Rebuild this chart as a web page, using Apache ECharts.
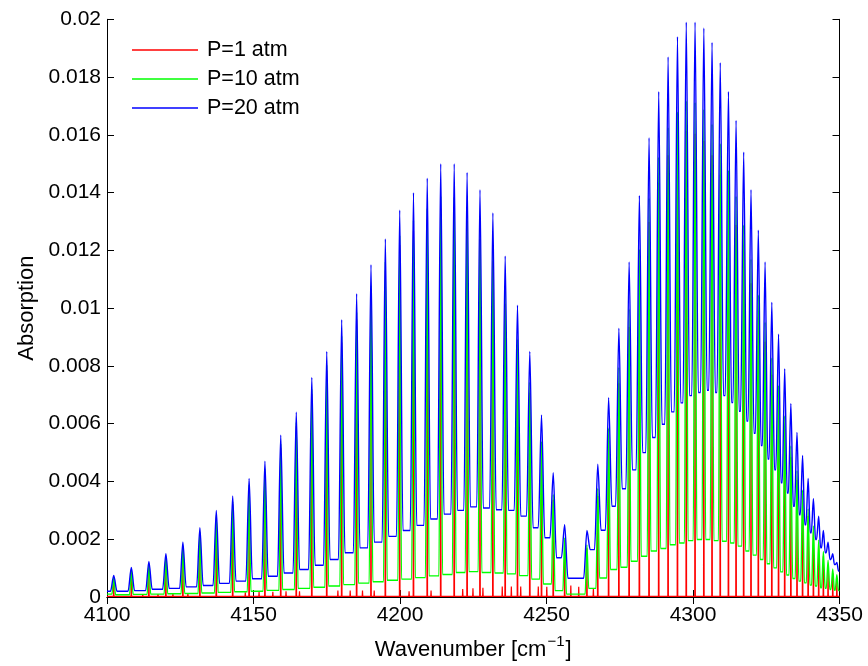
<!DOCTYPE html>
<html>
<head>
<meta charset="utf-8">
<script src="https://cdn.jsdelivr.net/npm/echarts@6/dist/echarts.min.js"></script>
<style>
html,body{margin:0;padding:0;background:#fff;}
#chart{width:868px;height:666px;}
</style>
</head>
<body>
<div id="chart"></div>
<script>
// ---- tick values ----
const xTicks = [4100, 4150, 4200, 4250, 4300, 4350];
const yTicks = [0, 0.002, 0.004, 0.006, 0.008, 0.01, 0.012, 0.014, 0.016, 0.018, 0.02];

// ---- main absorption line positions (cm^-1) ----
const lineWavenumbers = [
  4102.3, 4108.3, 4114.3, 4120.1, 4125.9, 4131.7, 4137.3, 4142.9, 4148.5, 4153.9,
  4159.3, 4164.6, 4169.9, 4175.0, 4180.1, 4185.2, 4190.1, 4195.0, 4199.9, 4204.6,
  4209.3, 4213.9, 4218.5, 4222.9, 4227.3, 4231.7, 4235.9, 4240.1, 4244.3, 4248.3,
  4252.3, 4256.2,
  4263.8, 4267.5, 4271.2, 4274.7, 4278.2, 4281.7, 4285.0, 4288.3, 4291.5, 4294.7,
  4297.7, 4300.7, 4303.7, 4306.5, 4309.3, 4312.1, 4314.7, 4317.3, 4319.8, 4322.3,
  4324.6, 4326.9, 4329.2, 4331.3, 4333.4, 4335.5, 4337.4, 4339.3, 4341.1, 4342.9,
  4344.5, 4346.1, 4347.7, 4349.1
];

// ---- P = 20 atm (blue) ----
const bluePeaks = [
  0.00075, 0.00102, 0.00123, 0.0015, 0.0019, 0.0024, 0.0030, 0.0035, 0.0041, 0.0047,
  0.0056, 0.0064, 0.0076, 0.0085, 0.0096, 0.0105, 0.0115, 0.0124, 0.0134, 0.0140,
  0.0145, 0.0150, 0.0150, 0.0147, 0.0141, 0.0133, 0.0118, 0.0101, 0.0085, 0.0063,
  0.0043, 0.0025,
  0.0023, 0.0046, 0.0069, 0.0093, 0.0116, 0.0139, 0.0159, 0.0175, 0.0187, 0.0194,
  0.0199, 0.0199, 0.0197, 0.0192, 0.0185, 0.0175, 0.0165, 0.0154, 0.0141, 0.0127,
  0.0116, 0.0102, 0.0091, 0.0079, 0.0067, 0.0057, 0.0049, 0.0041, 0.0034, 0.0028,
  0.0023, 0.0019, 0.0015, 0.0012
];
const blueValleys = [
  0.0002, 0.00022, 0.00027, 0.0003, 0.00035, 0.0004, 0.00047, 0.00055, 0.00063, 0.00072,
  0.00083, 0.00095, 0.0011, 0.0013, 0.00153, 0.0017, 0.0019, 0.0021, 0.0023, 0.00248,
  0.0027, 0.00287, 0.003, 0.00312, 0.00308, 0.00302, 0.003, 0.0028, 0.0024, 0.00205,
  0.00136,
  0.00065,
  0.00164, 0.00231, 0.00314, 0.00375, 0.0044, 0.005, 0.00552, 0.00598, 0.00641, 0.00672,
  0.00697, 0.00708, 0.00716, 0.00708, 0.00697, 0.00673, 0.00643, 0.00609, 0.00567, 0.00524,
  0.00478, 0.0044, 0.00395, 0.0036, 0.00314, 0.00285, 0.0025, 0.00222, 0.00199, 0.0017,
  0.00153, 0.0013, 0.00112
];
const blueEnds = [0.0002, 0.0009];

// ---- P = 10 atm (green) ----
const greenPeaks = [
  0.00068, 0.00095, 0.00115, 0.0014, 0.00178, 0.00226, 0.00284, 0.00331, 0.00388, 0.00445,
  0.00531, 0.00606, 0.00721, 0.00804, 0.00904, 0.00986, 0.01079, 0.01161, 0.01252, 0.01304,
  0.01346, 0.01388, 0.01385, 0.0135, 0.01287, 0.01208, 0.0106, 0.00893, 0.00744, 0.00539,
  0.00355, 0.00204,
  0.0018, 0.00376, 0.00585, 0.00795, 0.00997, 0.01204, 0.01381, 0.01523, 0.01625, 0.0168,
  0.01718, 0.01712, 0.01688, 0.01637, 0.0157, 0.01478, 0.01388, 0.01288, 0.0117, 0.01046,
  0.00952, 0.00828, 0.00733, 0.00627, 0.00523, 0.00438, 0.00371, 0.00305, 0.00246, 0.00197,
  0.00158, 0.00127, 0.00097, 0.00077
];
const greenValleys = [
  0.00008, 0.00009, 0.0001, 0.00011, 0.00012, 0.00014, 0.00016, 0.00018, 0.0002, 0.00023,
  0.00026, 0.0003, 0.00034, 0.00038, 0.00043, 0.00048, 0.00053, 0.00058, 0.00062, 0.00067,
  0.00073, 0.00078, 0.00085, 0.00088, 0.00085, 0.00083, 0.0008, 0.00074, 0.00062, 0.00045,
  0.00022,
  0.0001,
  0.0003, 0.00066, 0.00095, 0.00103, 0.00124, 0.00141, 0.00159, 0.00168, 0.00181, 0.00187,
  0.00195, 0.00199, 0.00199, 0.00195, 0.00193, 0.00187, 0.00176, 0.00159, 0.00145, 0.0013,
  0.00115, 0.00101, 0.00087, 0.00076, 0.00064, 0.00055, 0.00049, 0.00041, 0.00038, 0.00032,
  0.0003, 0.00026, 0.00023
];
const greenEnds = [0.0001, 0.00022];

// ---- P = 1 atm (red) ----
const redPeaks = [
  0.00063, 0.0009, 0.00109, 0.00134, 0.00171, 0.00219, 0.00276, 0.00322, 0.00378, 0.00433,
  0.00517, 0.00591, 0.00703, 0.00784, 0.00881, 0.00961, 0.01051, 0.0113, 0.01219, 0.01268,
  0.01308, 0.01346, 0.0134, 0.01302, 0.01239, 0.01162, 0.01015, 0.00851, 0.00707, 0.00509,
  0.00336, 0.00195,
  0.00169, 0.0035, 0.00541, 0.0074, 0.00935, 0.01131, 0.01298, 0.01433, 0.01529, 0.01579,
  0.01613, 0.01604, 0.01579, 0.01529, 0.01463, 0.01373, 0.01288, 0.01196, 0.01086, 0.0097,
  0.00884, 0.00769, 0.00681, 0.00582, 0.00484, 0.00405, 0.00342, 0.0028, 0.00224, 0.00178,
  0.00141, 0.00112, 0.00083, 0.00065
];
// weak lines, visible only in the 1 atm trace
const weakWavenumbers = [
  4106.9, 4112.2, 4117.4, 4122.5, 4127.6, 4147.2, 4151.9, 4156.6, 4161.1, 4165.7,
  4178.8, 4183.0, 4187.2, 4191.2, 4203.1, 4210.6, 4221.4, 4224.9, 4228.3, 4234.9,
  4238.0, 4241.2, 4247.2, 4250.1, 4258.3, 4261.0, 4266.0
];
const weakRedPeaks = [
  0.00008, 0.0001, 0.0001, 0.00012, 0.00013, 0.00016, 0.00017, 0.00018, 0.0002, 0.0002,
  0.00022, 0.00022, 0.00022, 0.00022, 0.0002, 0.00022, 0.00028, 0.0003, 0.00032, 0.00036,
  0.00036, 0.00036, 0.00036, 0.00035, 0.0004, 0.00035, 0.0003
];
const redBaseline = 0.00002;

// ---- build line point lists through the data arrays ----
const X_MIN = xTicks[0], X_MAX = xTicks[xTicks.length - 1];
const WALL_BLUE = 1.1, WALL_GREEN = 0.6, WALL_RED = 0.1; // drawing style (half width of spike walls)

function buildTrace(xs, peaks, valleys, ends, wall) {
  const n = xs.length, pts = [[X_MIN, ends[0]]];
  pts.push([xs[0] - Math.min(wall, 0.4 * (xs[1] - xs[0])), ends[0]]);
  for (let i = 0; i < n; i++) {
    pts.push([xs[i], peaks[i]]);
    if (i < n - 1) {
      const w = Math.min(wall, 0.4 * (xs[i + 1] - xs[i]));
      pts.push([xs[i] + w, valleys[i]]);
      pts.push([xs[i + 1] - w, valleys[i]]);
    }
  }
  const wl = Math.min(wall, 0.4 * (xs[n - 1] - xs[n - 2]));
  pts.push([Math.min(xs[n - 1] + wl, X_MAX), ends[1]]);
  pts.push([X_MAX, ends[1]]);
  return pts;
}
function buildNarrow(xs, peaks, base, wall) {
  const pts = [[X_MIN, base]];
  xs.forEach((x, i) => {
    pts.push([x - wall, base], [x, peaks[i]], [x + wall, base]);
  });
  pts.push([X_MAX, base]);
  return pts;
}
const redLines = lineWavenumbers.map((x, i) => [x, redPeaks[i]])
  .concat(weakWavenumbers.map((x, i) => [x, weakRedPeaks[i]]))
  .sort((a, b) => a[0] - b[0]);

const blueData = buildTrace(lineWavenumbers, bluePeaks, blueValleys, blueEnds, WALL_BLUE);
const greenData = buildTrace(lineWavenumbers, greenPeaks, greenValleys, greenEnds, WALL_GREEN);
const redData = buildNarrow(redLines.map(d => d[0]), redLines.map(d => d[1]), redBaseline, WALL_RED);

const FONT = 'Liberation Sans, Arial, Helvetica, sans-serif';
const TICK_FS = 21, TITLE_FS = 22, LEGEND_FS = 21.5;
const axisCommon = {
  type: 'value',
  axisLine: { show: true, lineStyle: { color: '#000', width: 1 } },
  axisTick: { show: true, inside: true, length: 7, lineStyle: { color: '#000', width: 1 } },
  splitLine: { show: false }
};

const chart = echarts.init(document.getElementById('chart'), null, { renderer: 'canvas' });
chart.setOption({
  animation: false,
  backgroundColor: '#fff',
  textStyle: { fontFamily: FONT },
  grid: { left: 107, right: 28.5, top: 19.3, bottom: 66.7 },
  legend: {
    orient: 'vertical', left: 132, top: 39, padding: 0,
    icon: 'rect',
    itemWidth: 66, itemHeight: 1.3, itemGap: 7,
    textStyle: { fontSize: LEGEND_FS, color: '#000', fontFamily: FONT, padding: [0, 0, 0, 4] },
    data: ['P=1 atm', 'P=10 atm', 'P=20 atm']
  },
  xAxis: [
    Object.assign({}, axisCommon, {
      position: 'bottom', min: X_MIN, max: X_MAX, interval: xTicks[1] - xTicks[0],
      axisLabel: { fontSize: TICK_FS, color: '#000', margin: 8, fontFamily: FONT, formatter: v => String(v) },
      name: '{a|Wavenumber [cm}{s|−1}{a|]}', nameLocation: 'middle', nameGap: 37,
      nameTextStyle: {
        rich: {
          a: { fontSize: TITLE_FS, color: '#000', fontFamily: FONT, lineHeight: 27, verticalAlign: 'bottom' },
          s: { fontSize: 15, color: '#000', fontFamily: FONT, lineHeight: 27, verticalAlign: 'top', padding: [0, 1, 0, 1] }
        }
      }
    }),
    Object.assign({}, axisCommon, {
      position: 'top', min: X_MIN, max: X_MAX, interval: xTicks[1] - xTicks[0],
      axisLabel: { show: false }
    })
  ],
  yAxis: [
    Object.assign({}, axisCommon, {
      position: 'left', min: yTicks[0], max: yTicks[yTicks.length - 1], interval: yTicks[1] - yTicks[0],
      axisLabel: { fontSize: TICK_FS, color: '#000', margin: 6, fontFamily: FONT,
        formatter: v => (Math.abs(v) < 1e-12 ? '0' : String(+v.toFixed(3))) },
      name: 'Absorption', nameLocation: 'middle', nameGap: 69,
      nameTextStyle: { fontSize: TITLE_FS, color: '#000', fontFamily: FONT }
    }),
    Object.assign({}, axisCommon, {
      position: 'right', min: yTicks[0], max: yTicks[yTicks.length - 1], interval: yTicks[1] - yTicks[0],
      axisLabel: { show: false }
    })
  ],
  series: [
    { name: 'P=1 atm', type: 'line', data: redData, symbol: 'none', color: '#ff0000',
      lineStyle: { color: '#ff0000', width: 1.2 }, xAxisIndex: 0, yAxisIndex: 0 },
    { name: 'P=10 atm', type: 'line', data: greenData, symbol: 'none', color: '#00ff00',
      smooth: 0.3, smoothMonotone: 'x',
      lineStyle: { color: '#00ff00', width: 1.4 }, xAxisIndex: 0, yAxisIndex: 0 },
    { name: 'P=20 atm', type: 'line', data: blueData, symbol: 'none', color: '#0000ff',
      smooth: 0.3, smoothMonotone: 'x',
      lineStyle: { color: '#0000ff', width: 1.4 }, xAxisIndex: 0, yAxisIndex: 0 }
  ]
});
</script>
</body>
</html>
